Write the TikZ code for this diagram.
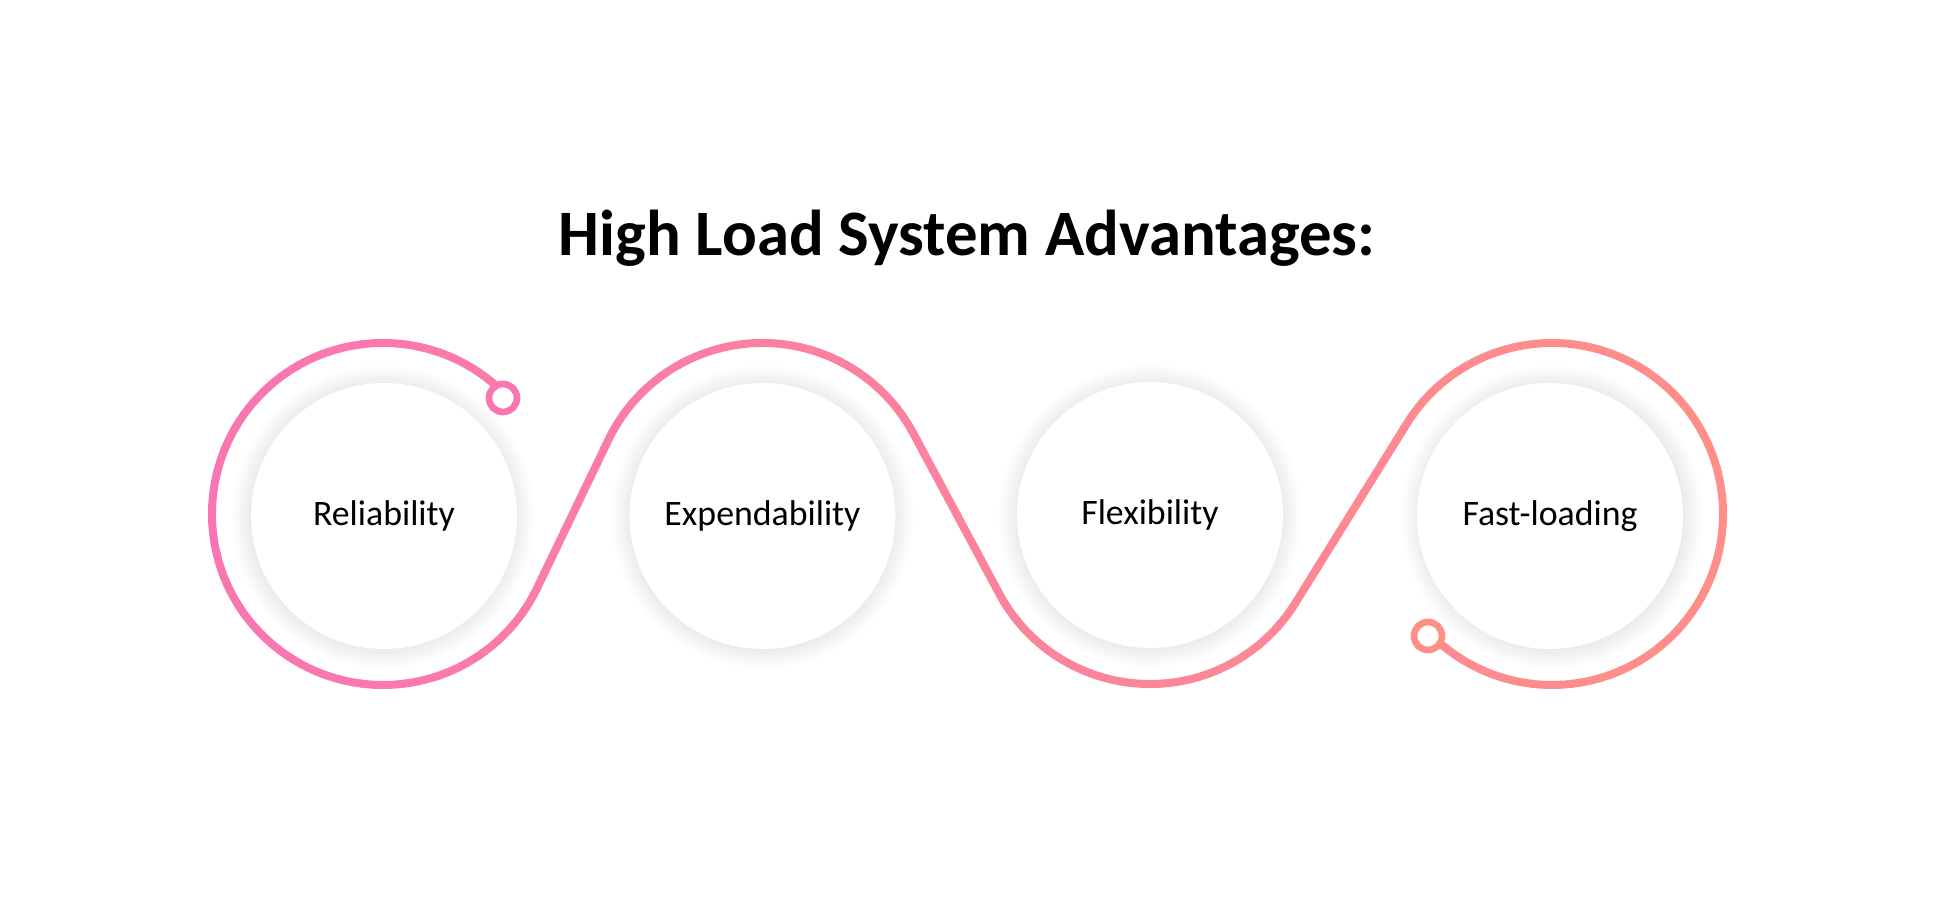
\documentclass[tikz,border=0pt]{standalone}
\usepackage{fontspec}
\setmainfont{Carlito}
\usetikzlibrary{calc}
\definecolor{startc}{RGB}{249,118,178}
\definecolor{endc}{RGB}{255,144,134}
\newcommand\wavepath{($(C1)+(48:171)$) arc[start angle=48, end angle=334.33, radius=171]
  -- ($(C2)+(154.33:171)$) arc[start angle=154.33, end angle=28.03, radius=171]
  -- ($(C3)+(208.03:171)$) arc[start angle=208.03, end angle=328.29, radius=171]
  -- ($(C4)+(148.29:171)$) arc[start angle=148.29, end angle=-132, radius=171]}
\tikzset{
  bubble/.style={circle, fill=white, minimum size=133pt, inner sep=0pt, font=\fontsize{17.9}{21}\selectfont, text=black},
  wave/.style={line width=4pt},
  knob/.style={circle, draw, fill=white, line width=3.35pt, minimum size=14pt, inner sep=0pt},
  titlefont/.style={font=\fontsize{32.4}{38}\bfseries\selectfont}
}
\begin{document}
\begin{tikzpicture}[x=0.5pt,y=0.5pt]
\fill[white] (0,0) rectangle (1934,913);
\useasboundingbox (0,0) rectangle (1934,913);
\coordinate (C1) at (383,399);
\coordinate (C2) at (762.5,399);
\coordinate (C3) at (1150,400);
\coordinate (C4) at (1552,399);
\node[titlefont, anchor=base] (title) at (967,657) {High Load System Advantages:};
% shadows
\foreach \c in {C1,C2,C3,C4}{
  \foreach \k in {0,...,9}{
    \fill[black, opacity=0.006] ($(\c)+(0,-3)$) circle[radius=133+2*\k];
  }
}
% gradient wave
\foreach \i in {0,...,79}{
  \pgfmathsetmacro\p{(\i+0.5)*100/80}
  \begin{scope}
    \clip (200+\i*20,0) rectangle (221+\i*20,913);
    \draw[wave, color=endc!\p!startc] \wavepath;
  \end{scope}
}
\node[bubble] (n1) at (384,397) {Reliability};
\node[bubble] (n2) at (762.5,397) {Expendability};
\node[bubble] (n3) at (1150,398) {Flexibility};
\node[bubble] (n4) at (1550,397) {Fast-loading};
\node[knob, draw=startc!97!endc] (s1) at (503,515) {};
\node[knob, draw=endc] (s2) at (1428,277) {};
\end{tikzpicture}
\end{document}
